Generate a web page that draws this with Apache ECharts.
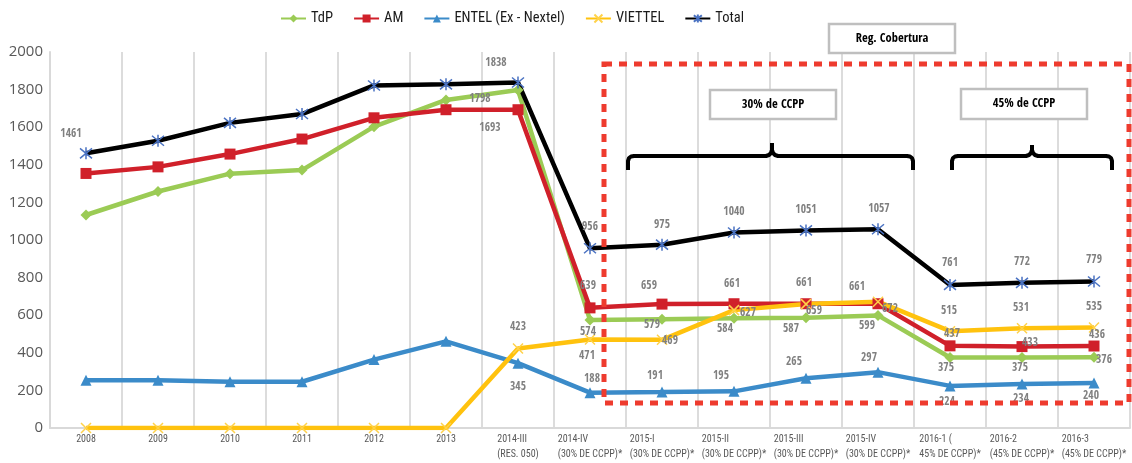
<!DOCTYPE html>
<html><head><meta charset="utf-8">
<script src="https://cdn.jsdelivr.net/npm/echarts@6/dist/echarts.min.js"></script>
<style>html,body{margin:0;padding:0;background:#fff}#c{width:1132px;height:463px}</style>
</head><body><div id="c"></div>
<script>
const categories = ['2008','2009','2010','2011','2012','2013','2014-III\n(RES. 050)','2014-IV\n(30% DE CCPP)*','2015-I\n(30% DE CCPP)*','2015-II\n(30% DE CCPP)*','2015-III\n(30% DE CCPP)*','2015-IV\n(30% DE CCPP)*','2016-1 (\n45% DE CCPP)*','2016-2\n(45% DE CCPP)*','2016-3\n(45% DE CCPP)*'];
const tdp     = [1133,1258,1353,1372,1603,1745,1798,574,579,584,587,599,375,375,376];
const am      = [1354,1389,1457,1537,1650,1693,1693,639,659,661,661,661,437,433,436];
const entel   = [254,254,246,246,364,461,345,188,191,195,265,297,224,234,240];
const viettel = [0,0,0,0,0,0,423,471,469,627,659,672,515,531,535];
const total   = [1461,1528,1623,1670,1822,1828,1838,956,975,1040,1051,1057,761,772,779];
const seriesNames = ['TdP','AM','ENTEL (Ex - Nextel)','VIETTEL','Total'];
const yMin = 0, yMax = 2000, yStep = 200;

// label offsets (style), keyed by category index
const tdpLbl = {6:[-38,9],7:[-2,12],8:[-10,6],9:[-9,11],10:[-15,11],11:[-11,11],12:[-4,10],13:[-2,10],14:[10,3]};
const amLbl = {6:[-28,18],7:[-2,-22],8:[-13,-18],9:[-2,-20],10:[-2,-21],11:[-21,-17],12:[2,-12],13:[8,-4],14:[3,-11]};
const entelLbl = {6:[0,24],7:[2,-14],8:[-7,-16],9:[-13,-15],10:[-12,-16],11:[-9,-14],12:[-3,16],13:[-1,15],14:[-3,13]};
const viettelLbl = {6:[0,-21],7:[-3,17],8:[8,1],9:[14,3],10:[8,7],11:[12,7],12:[-1,-20],13:[-1,-20],14:[0,-20]};
const totalLbl = {0:[-15,-19],6:[-22,-19],7:[0,-21],8:[0,-20],9:[0,-20],10:[0,-20],11:[1,-20],12:[0,-22],13:[0,-21],14:[0,-22]};

const NARROW = "'Open Sans Condensed','Roboto Condensed',sans-serif";
const NARROW_R = "'Roboto Condensed','Open Sans Condensed',sans-serif";
const lblStyle = {color:'#808080', fontSize:11.5, fontWeight:'bold', fontFamily:NARROW};

function mk(vals, lbls){
  return vals.map((v,i)=> lbls[i] ? {value:v, label:Object.assign({show:true, position:'inside', offset:lbls[i]}, lblStyle)} : v);
}
function line(name, vals, lbls, color, symbol, size, extra){
  return Object.assign({
    name, type:'line', data:mk(vals,lbls), symbol, symbolSize:size,
    lineStyle:{color, width:4.5},
    itemStyle:{color},
    label:{show:false},
    emphasis:{disabled:true}, animation:false, z:3
  }, extra||{});
}
const XPATH = 'path://M0,0L10,10M10,0L0,10';
const STAR = 'path://M0,0L10,10M10,0L0,10M5,-1L5,11';

const boxText = {fill:'#000', font:"bold 12.5px "+NARROW, align:'center', verticalAlign:'middle'};
const chart = echarts.init(document.getElementById('c'));
chart.setOption({
  animation:false,
  backgroundColor:'#fff',
  legend:{
    top:6, left:275, itemGap:20, itemWidth:25, itemHeight:10,
    textStyle:{fontSize:14.5, color:'#1a1a1a', fontFamily:NARROW_R},
    data:seriesNames
  },
  grid:{left:50, right:2, top:52, bottom:35, containLabel:false},
  xAxis:{
    type:'category', data:categories, boundaryGap:true,
    axisLine:{lineStyle:{color:'#d9d9d9', width:2}},
    axisTick:{show:false},
    splitLine:{show:true, lineStyle:{color:'#dcdcdc', width:2}},
    axisLabel:{
      interval:0, margin:4, color:'#595959', fontSize:10, fontFamily:NARROW_R, lineHeight:15,
      formatter:(v)=> v.split('\n').map(s=>'{a|'+s+'}').join('\n'),
      rich:{a:{align:'left', fontSize:10, fontFamily:NARROW_R, color:'#595959', lineHeight:15}}
    }
  },
  yAxis:{
    type:'value', min:yMin, max:yMax, interval:yStep,
    axisLine:{show:true, lineStyle:{color:'#d9d9d9', width:2}},
    axisTick:{show:false},
    splitLine:{show:false},
    axisLabel:{color:'#595959', fontSize:15, fontFamily:"'Open Sans',sans-serif", margin:7, formatter:(v)=>String(v)}
  },
  series:[
    line('TdP', tdp, tdpLbl, '#9BCB55', 'diamond', 11),
    line('AM', am, amLbl, '#D0202A', 'rect', 11),
    line('ENTEL (Ex - Nextel)', entel, entelLbl, '#3B8BC9', 'triangle', 11),
    line('VIETTEL', viettel, viettelLbl, '#FFC20E', XPATH, 10, {itemStyle:{color:'#FFC20E', borderColor:'#FFD24A', borderWidth:1.5}}),
    line('Total', total, totalLbl, '#000000', STAR, 12, {itemStyle:{color:'#4A72C2', borderColor:'#4A72C2', borderWidth:1.5}})
  ],
  graphic:[
    {type:'rect', z:10, silent:true, shape:{x:604, y:64, width:525, height:339},
     style:{fill:'none', stroke:'#EE3B2E', lineWidth:5, lineDash:[8,7]}},
    {type:'rect', z:11, shape:{x:829, y:24, width:126, height:29},
     style:{fill:'#fff', stroke:'#BFBFBF', lineWidth:2.5}},
    {type:'text', z:12, x:892, y:39, style:Object.assign({text:'Reg. Cobertura'}, boxText)},
    {type:'rect', z:11, shape:{x:710, y:90, width:126, height:29},
     style:{fill:'#fff', stroke:'#BFBFBF', lineWidth:2.5}},
    {type:'text', z:12, x:773, y:105, style:Object.assign({text:'30% de CCPP'}, boxText)},
    {type:'rect', z:11, shape:{x:961, y:89, width:126, height:30},
     style:{fill:'#fff', stroke:'#BFBFBF', lineWidth:2.5}},
    {type:'text', z:12, x:1024, y:104, style:Object.assign({text:'45% de CCPP'}, boxText)},
    {type:'polyline', z:11, shape:{points:[[628,170],[628,161],[629,158],[631,156.5],[634,156],[766,156],[769,155],[771,153],[772,150],[772,143]]},
     style:{fill:'none', stroke:'#000', lineWidth:4, lineJoin:'round'}},
    {type:'polyline', z:11, shape:{points:[[772,150],[773,153],[775,155],[778,156],[907,156],[910,156.5],[912,158],[913,161],[913,170]]},
     style:{fill:'none', stroke:'#000', lineWidth:4, lineJoin:'round'}},
    {type:'polyline', z:11, shape:{points:[[952,170],[952,161],[953,158],[955,156.5],[958,156],[1026,156],[1029,155],[1031,153],[1032,150],[1032,145]]},
     style:{fill:'none', stroke:'#000', lineWidth:4, lineJoin:'round'}},
    {type:'polyline', z:11, shape:{points:[[1032,150],[1033,153],[1035,155],[1038,156],[1106,156],[1109,156.5],[1111,158],[1112,161],[1112,170]]},
     style:{fill:'none', stroke:'#000', lineWidth:4, lineJoin:'round'}}
  ]
});
</script></body></html>
